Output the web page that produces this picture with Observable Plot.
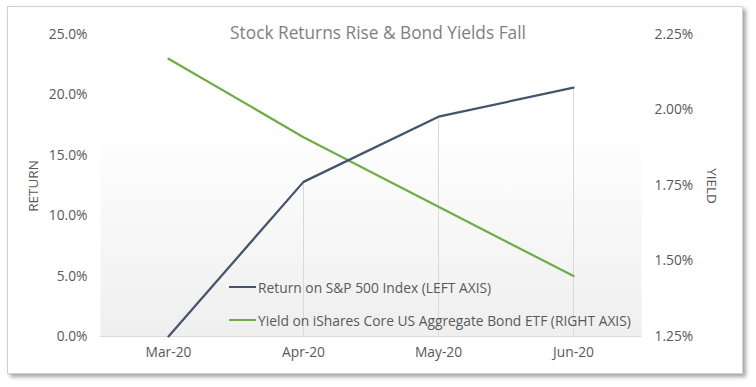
<!DOCTYPE html>
<html>
<head>
<meta charset="utf-8">
<script src="https://cdn.jsdelivr.net/npm/d3@7"></script>
<script src="https://cdn.jsdelivr.net/npm/@observablehq/plot@0.6"></script>
<style>
  html, body { margin: 0; padding: 0; background: #fff; }
  body { width: 756px; height: 387px; position: relative; overflow: hidden; font-family: "Open Sans", sans-serif; }
  #card { position: absolute; left: 7px; top: 6px; width: 734px; height: 366px; border: 1px solid #d0d0d0; background: #fff; box-shadow: 3px 3px 4px rgba(0,0,0,0.35); }
  #chart { position: absolute; left: 0; top: 0; }
  #title { position: absolute; left: 0; width: 756px; top: 21px; text-align: center; font-size: 17.3px; color: #7f7f7f; }
  .ylab { position: absolute; font-size: 13.5px; color: #595959; white-space: nowrap; }
  #legend { position: absolute; left: 229px; top: 277px; font-size: 13.8px; color: #595959; }
  #legend .item { display: flex; align-items: center; height: 20px; margin-bottom: 13px; }
  #legend .sw { width: 27px; height: 0; border-top: 2.5px solid; margin-right: 2px; }
</style>
</head>
<body>
<div id="card"></div>
<div id="chart"></div>
<div id="title">Stock Returns Rise &amp; Bond Yields Fall</div>
<div class="ylab" style="left:33px; top:186px; transform: translate(-50%,-50%) rotate(-90deg);">RETURN</div>
<div class="ylab" style="left:712px; top:186px; transform: translate(-50%,-50%) rotate(90deg);">YIELD</div>
<div id="legend">
  <div class="item"><div class="sw" style="border-color:#44546A"></div>Return on S&amp;P 500 Index (LEFT AXIS)</div>
  <div class="item"><div class="sw" style="border-color:#70AD47"></div>Yield on iShares Core US Aggregate Bond ETF (RIGHT AXIS)</div>
</div>
<script>
const months = ["Mar-20", "Apr-20", "May-20", "Jun-20"];
const spReturn = [0.0, 12.8, 18.2, 20.6];      // % (left axis)
const bondYield = [2.17, 1.91, 1.68, 1.45];    // % (right axis)
const leftTicks = [0, 5, 10, 15, 20, 25];
const rightTicks = [1.25, 1.50, 1.75, 2.00, 2.25];

// map yield onto the return scale: 1.25% -> 0, 2.25% -> 25
const yMin = 1.25, yMax = 2.25, rMax = 25;
const toLeft = v => (v - yMin) / (yMax - yMin) * rMax;

const spData = months.map((m, i) => ({month: m, value: spReturn[i]}));
const bondData = months.map((m, i) => ({month: m, value: toLeft(bondYield[i]), raw: bondYield[i]}));

const plot = Plot.plot({
  width: 756,
  height: 387,
  marginLeft: 100,
  marginRight: 115,
  marginTop: 34,
  marginBottom: 51,
  style: {fontFamily: "Open Sans, sans-serif", fontSize: "13.8px", color: "#595959", background: "transparent"},
  x: {type: "point", domain: months, padding: 0.5, label: null},
  y: {domain: [0, 25], label: null},
  marks: [
    Plot.frame({fill: "url(#plotbg)", stroke: null}),
    Plot.ruleX(spData.filter(d => d.value > 0), {x: "month", y1: 0, y2: "value", stroke: "#d9d9d9", strokeWidth: 1}),
    Plot.ruleY([0], {stroke: "#d9d9d9", strokeWidth: 1}),
    Plot.axisY({anchor: "left", ticks: leftTicks, tickSize: 0, tickPadding: 13, tickFormat: d => d.toFixed(1) + "%", label: null}),
    Plot.axisY({anchor: "right", ticks: rightTicks.map(toLeft), tickSize: 0, tickPadding: 13, tickFormat: d => (yMin + d / rMax * (yMax - yMin)).toFixed(2) + "%", label: null}),
    Plot.axisX({tickSize: 0, tickPadding: 11, label: null}),
    Plot.line(bondData, {x: "month", y: "value", stroke: "#70AD47", strokeWidth: 2.25}),
    Plot.line(spData, {x: "month", y: "value", stroke: "#44546A", strokeWidth: 2.25})
  ]
});

const defs = d3.select(plot).insert("defs", ":first-child");
const g = defs.append("linearGradient").attr("id", "plotbg").attr("x1", 0).attr("y1", 0).attr("x2", 0).attr("y2", 1);
g.append("stop").attr("offset", "0%").attr("stop-color", "#ffffff");
g.append("stop").attr("offset", "30%").attr("stop-color", "#ffffff");
g.append("stop").attr("offset", "100%").attr("stop-color", "#efefef");

document.getElementById("chart").appendChild(plot);
</script>
</body>
</html>
